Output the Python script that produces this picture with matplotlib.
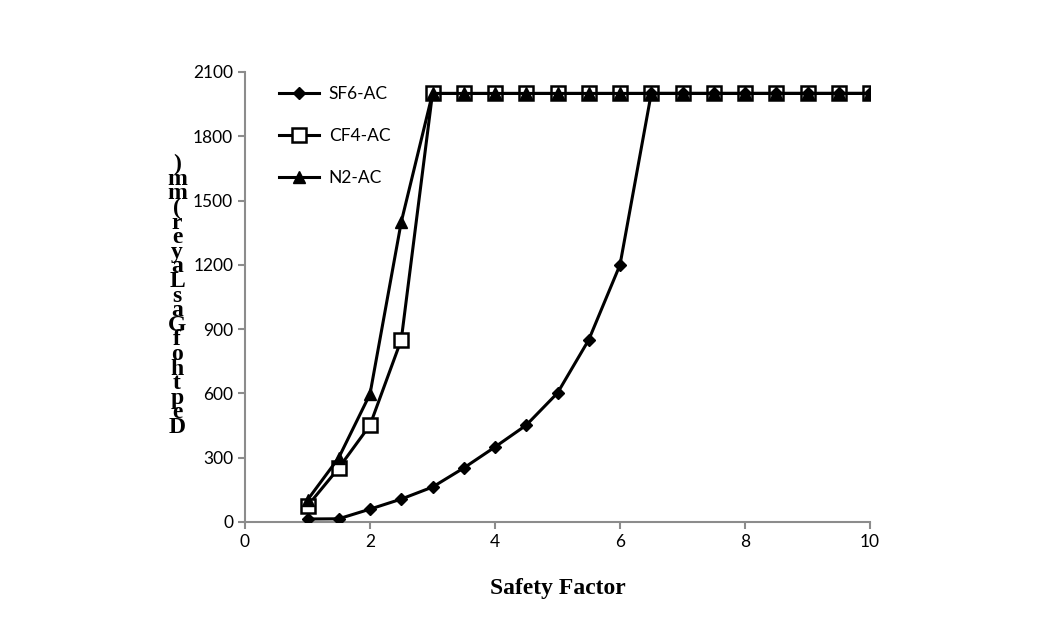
import numpy as np
import matplotlib.pyplot as plt

# data
sf6_x = [1, 1.5, 2, 2.5, 3, 3.5, 4, 4.5, 5, 5.5, 6, 6.5, 7, 7.5, 8, 8.5, 9, 9.5, 10]
sf6_y = [14, 15, 60, 107, 163, 252, 350, 452, 602, 850, 1200, 2000, 2000, 2000, 2000, 2000, 2000, 2000, 2000]

cf4_x = [1, 1.5, 2, 2.5, 3, 3.5, 4, 4.5, 5, 5.5, 6, 6.5, 7, 7.5, 8, 8.5, 9, 9.5, 10]
cf4_y = [75, 252, 452, 850, 2000, 2000, 2000, 2000, 2000, 2000, 2000, 2000, 2000, 2000, 2000, 2000, 2000, 2000, 2000]

n2_x = [1, 1.5, 2, 2.5, 3, 3.5, 4, 4.5, 5, 5.5, 6, 6.5, 7, 7.5, 8, 8.5, 9, 9.5, 10]
n2_y = [103, 300, 597, 1400, 2000, 2000, 2000, 2000, 2000, 2000, 2000, 2000, 2000, 2000, 2000, 2000, 2000, 2000, 2000]

y_label = "Depth of Gas Layer (mm)"
x_label = "Safety Factor"

plt.rcParams['font.family'] = ['Lato', 'DejaVu Sans']

fig = plt.figure(figsize=(10.42, 6.27), dpi=100)
ax = fig.add_axes([245 / 1042, 1 - 522 / 627, 625 / 1042, 450 / 627])

ax.plot(sf6_x, sf6_y, color='black', lw=2.2, marker='D', ms=6, mfc='black', mec='black', label='SF6-AC', zorder=3)
ax.plot(cf4_x, cf4_y, color='black', lw=2.2, marker='s', ms=10.5, mfc='white', mec='black', mew=1.8, label='CF4-AC', zorder=2)
ax.plot(n2_x, n2_y, color='black', lw=2.2, marker='^', ms=8, mfc='black', mec='black', label='N2-AC', zorder=4)

ax.set_xlim(0, 10)
ax.set_ylim(0, 2100)
ax.set_xticks(np.arange(0, 11, 2))
ax.set_yticks(np.arange(0, 2101, 300))

for s in ['top', 'right']:
    ax.spines[s].set_visible(False)
for s in ['left', 'bottom']:
    ax.spines[s].set_color('#8c8c8c')
    ax.spines[s].set_linewidth(1.5)
ax.tick_params(axis='both', colors='#8c8c8c', width=1.5, length=5, labelcolor='black', labelsize=12.5)

ax.legend(loc='upper left', bbox_to_anchor=(0.03, 1.003), frameon=False, fontsize=12.5,
          handlelength=2.3, labelspacing=1.5, handletextpad=0.55)

ax.set_xlabel(x_label, fontsize=17, fontweight='bold', family='Liberation Serif', labelpad=20)

# stacked y label, upright characters, read bottom to top
chars = [c for c in y_label if c != ' ']
fig.text(177 / 1042, 1 - 296 / 627, "\n".join(chars[::-1]), ha='center', va='center',
         multialignment='center', linespacing=0.6,
         fontsize=17, fontweight='bold', family='Liberation Serif')

fig.savefig('out.png', dpi=100)
